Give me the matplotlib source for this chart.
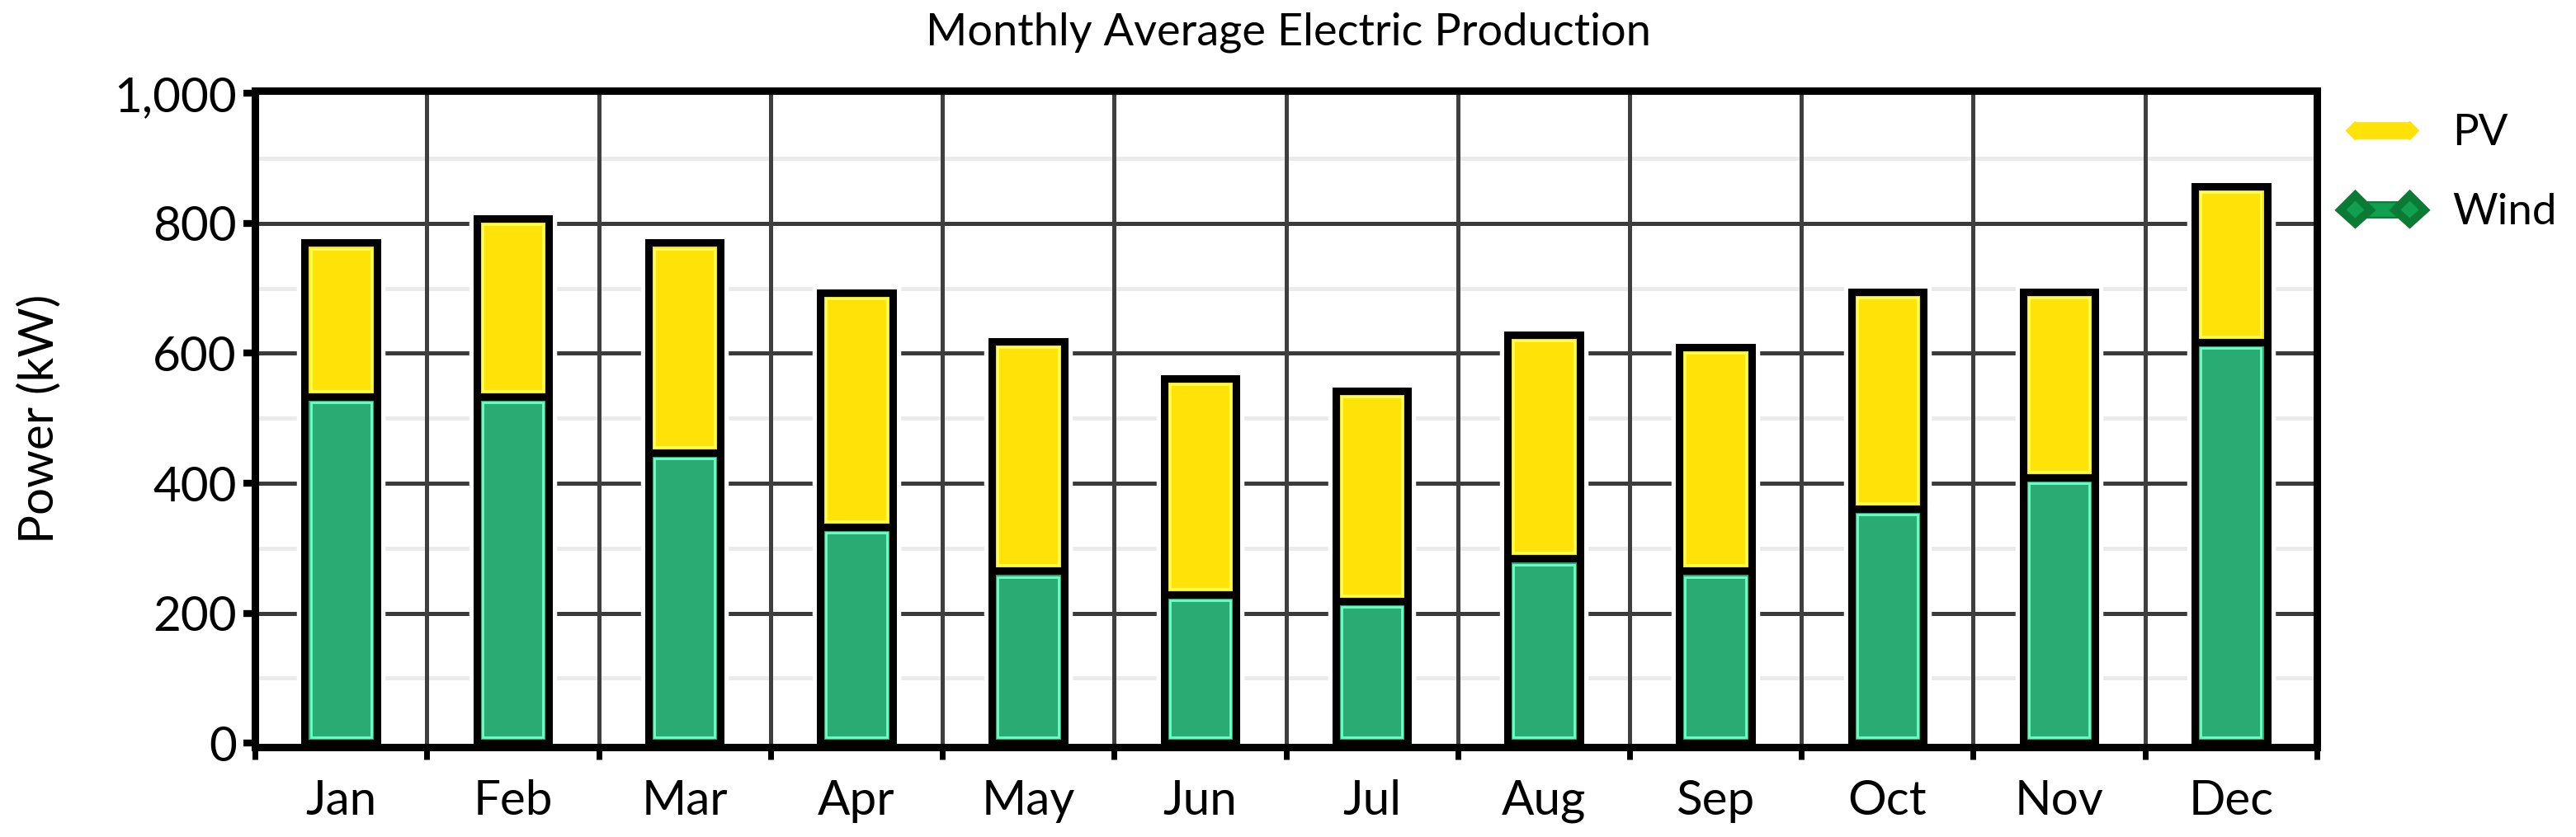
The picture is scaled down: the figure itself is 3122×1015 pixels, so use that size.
import numpy as np
import matplotlib
matplotlib.use('Agg')
import matplotlib.pyplot as plt
from matplotlib.lines import Line2D
import matplotlib.patheffects as pe

plt.rcParams['font.family'] = ['Lato', 'DejaVu Sans']

months = ['Jan', 'Feb', 'Mar', 'Apr', 'May', 'Jun', 'Jul', 'Aug', 'Sep', 'Oct', 'Nov', 'Dec']
wind = [533, 533, 447, 333, 265, 229, 219, 284, 265, 361, 409, 617]
pv = [237, 274, 323, 360, 353, 332, 323, 345, 344, 334, 286, 240]
yticks = [0, 200, 400, 600, 800, 1000]
ytick_labels = ['0', '200', '400', '600', '800', '1,000']

wind_col = '#2aab73'
wind_hi = '#6effc6'
pv_col = '#ffe208'
pv_hi = '#ffff55'

x = np.arange(len(months))
wind = np.array(wind)
pv = np.array(pv)
total = wind + pv

fig = plt.figure(figsize=(31.22, 10.15), dpi=100)
ax = fig.add_axes([0.099, 0.1074, 0.8004, 0.7842])

w = 0.42
# white halo behind the stacks
ax.bar(x, total, w, color='white', edgecolor='white', lw=14, zorder=2)
ax.bar(x, wind, w, color=wind_col, edgecolor='black', lw=6.5, zorder=3)
ax.bar(x, pv, w, bottom=wind, color=pv_col, edgecolor='black', lw=6.5, zorder=3)

# light inner border of each segment
dx, dy = 0.034, 9
ax.bar(x, wind - 2 * dy, w - 2 * dx, bottom=dy, fill=False, edgecolor=wind_hi, lw=2, zorder=4)
ax.bar(x, pv - 2 * dy, w - 2 * dx, bottom=wind + dy, fill=False, edgecolor=pv_hi, lw=2, zorder=4)

ax.set_xlim(-0.5, len(months) - 0.5)
ax.set_ylim(-6, 1004)

# grid
for yy in np.arange(100, 1000, 200):
    ax.axhline(yy, color='#ebebeb', lw=3.6, zorder=0.5)
for yy in yticks[1:-1]:
    ax.axhline(yy, color='#3a3a3a', lw=3.6, zorder=0.6)
for xx in x[:-1] + 0.5:
    ax.axvline(xx, color='#3f3f3f', lw=3.6, zorder=0.7)

ax.set_yticks(yticks)
ax.set_yticklabels(ytick_labels)
ax.set_xticks(x)
ax.set_xticklabels(months)
ax.set_xticks(np.arange(len(months) + 1) - 0.5, minor=True)
ax.tick_params(axis='x', which='major', length=0, pad=28, labelsize=42)
ax.tick_params(axis='x', which='minor', length=11, width=5, direction='out')
ax.tick_params(axis='y', which='major', length=10, width=6, pad=6, labelsize=42)

for s in ax.spines.values():
    s.set_linewidth(6.5)
    s.set_color('black')

ax.set_ylabel('Power (kW)', fontsize=42, labelpad=46)
fig.text(0.5, 0.961, 'Monthly Average Electric Production', ha='center', va='center', fontsize=39)

handles = [
    Line2D([0], [0], color=pv_col, lw=15, solid_capstyle='butt', marker='D', markersize=11,
           markerfacecolor=pv_col, markeredgecolor=pv_col),
    Line2D([0], [0], color='#10a04f', lw=12, solid_capstyle='butt', marker='D', markersize=10,
           markerfacecolor='#10a04f', markeredgecolor='#10a04f',
           path_effects=[pe.Stroke(linewidth=15, foreground='#0a7a35'), pe.Normal()]),
]
fig.legend(handles, ['PV', 'Wind'], loc='upper left', bbox_to_anchor=(0.909, 0.864),
           frameon=False, fontsize=38, numpoints=2, handlelength=1.85, borderpad=0,
           borderaxespad=0, handletextpad=0.7, labelspacing=0.93)

fig.savefig('out.png', dpi=100, facecolor='white')
